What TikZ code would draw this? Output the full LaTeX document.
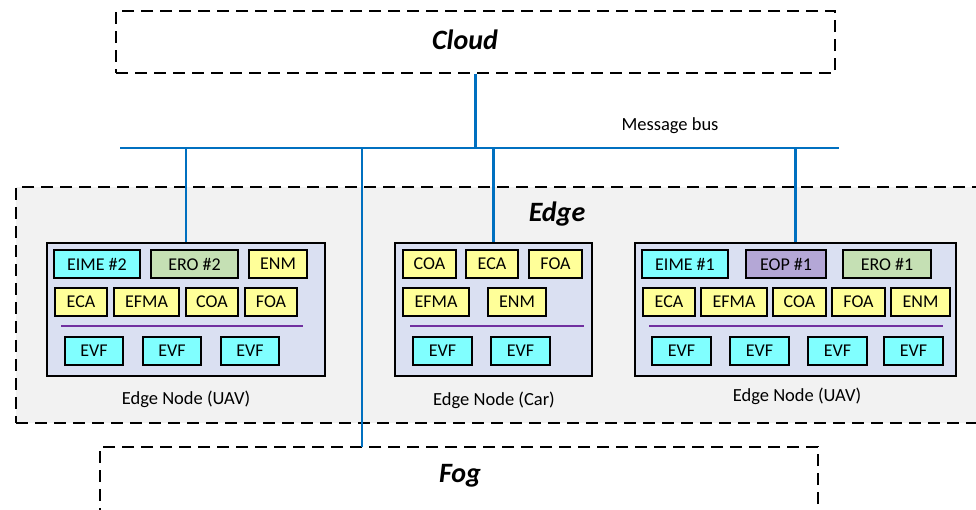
\documentclass[tikz,border=0pt]{standalone}
\usepackage{fontspec}
\setmainfont{Carlito}
\begin{document}
\begin{tikzpicture}[x=1pt, y=-1pt,
    layer/.style={draw, line width=1.8pt, dash pattern=on 12pt off 7pt, inner sep=0pt},
    layertext/.style={font=\fontsize{28}{33}\selectfont\bfseries\itshape},
    nodebox/.style={draw, line width=1.6pt, fill=nodefill, inner sep=0pt, minimum height=133pt},
    blk/.style={draw, line width=1.5pt, inner sep=0pt, minimum height=28pt, font=\fontsize{18}{21}\selectfont},
    cblk/.style={blk, fill=cyanbox},
    yblk/.style={blk, fill=yellowbox},
    gblk/.style={blk, fill=greenbox},
    pblk/.style={blk, fill=purplebox},
    bus/.style={line width=2.6pt, draw=busblue},
    sep/.style={line width=1.4pt, draw=sepline},
    caption/.style={font=\fontsize{18.5}{22}\selectfont}]
    % Define colors
    \definecolor{busblue}{RGB}{0,112,192}
    \definecolor{sepline}{RGB}{112,48,160}
    \definecolor{edgefill}{RGB}{242,242,242}
    \definecolor{nodefill}{RGB}{218,224,242}
    \definecolor{cyanbox}{RGB}{128,255,255}
    \definecolor{yellowbox}{RGB}{255,255,153}
    \definecolor{greenbox}{RGB}{197,224,180}
    \definecolor{purplebox}{RGB}{180,167,214}

    \useasboundingbox (0,0) rectangle (976,509);

    % Draw the layers
    \node[layer, fill=edgefill, minimum width=974pt, minimum height=236pt] (edge) at (503,305) {};
    \node[layer, minimum width=719pt, minimum height=62pt] (cloud) at (475.5,42) {};
    \node[layer, minimum width=718pt, minimum height=80pt] (fog) at (459,487) {};
    \node[layertext] (cloudlbl) at (465,40) {Cloud};
    \node[layertext] (edgelbl) at (557,214) {Edge};
    \node[layertext] (foglbl) at (460,476) {Fog};

    % Draw the message bus
    \coordinate (busL) at (120,148);
    \coordinate (busR) at (839,148);
    \coordinate (fogtap) at (362,447);
    \node[caption] (buslbl) at (670,126) {Message bus};

    % Draw the edge nodes
    \node[nodebox, minimum width=278pt] (uavtwo) at (186,309.5) {};
    \node[nodebox, minimum width=197pt] (car) at (493.5,309.5) {};
    \node[nodebox, minimum width=321pt] (uavone) at (795.5,309.5) {};
    \node[caption] (uavtwolbl) at (186,399) {Edge Node (UAV)};
    \node[caption] (carlbl) at (494,400) {Edge Node (Car)};
    \node[caption] (uavonelbl) at (797,396) {Edge Node (UAV)};

    \draw[bus] (busL) -- (busR);
    \draw[bus] (cloud.south) -- (cloud.south |- busL);
    \draw[bus] (busL -| uavtwo.north) -- (uavtwo.north);
    \draw[bus] (busL -| car.north) -- (car.north);
    \draw[bus] (busL -| uavone.north) -- (uavone.north);
    \draw[bus] (busL -| fogtap) -- (fogtap);

    % Edge node (UAV), left
    \node[cblk, minimum width=86pt] (eimetwo) at (97,264) {EIME \#2};
    \node[gblk, minimum width=87pt] (erotwo) at (194.5,264) {ERO \#2};
    \node[yblk, minimum width=58pt] (enmtwo) at (278,264) {ENM};
    \node[yblk, minimum width=52pt] (ecatwo) at (81,302) {ECA};
    \node[yblk, minimum width=65pt] (efmatwo) at (146.5,302) {EFMA};
    \node[yblk, minimum width=52pt] (coatwo) at (212,302) {COA};
    \node[yblk, minimum width=52pt] (foatwo) at (271,302) {FOA};
    \coordinate (septwoL) at (61,326);
    \coordinate (septwoR) at (303,326);
    \draw[sep] (septwoL) -- (septwoR);
    \foreach \x/\n in {94/a, 172/b, 250/c}
        \node[cblk, minimum width=58pt] (evftwo\n) at (\x,351) {EVF};

    % Edge node (Car)
    \node[yblk, minimum width=53pt] (coacar) at (429.5,264) {COA};
    \node[yblk, minimum width=52pt] (ecacar) at (492,264) {ECA};
    \node[yblk, minimum width=53pt] (foacar) at (555.5,264) {FOA};
    \node[yblk, minimum width=66pt] (efmacar) at (436,302) {EFMA};
    \node[yblk, minimum width=58pt] (enmcar) at (517,302) {ENM};
    \coordinate (sepcarL) at (410,326);
    \coordinate (sepcarR) at (584,326);
    \draw[sep] (sepcarL) -- (sepcarR);
    \foreach \x/\n in {442.5/a, 520.5/b}
        \node[cblk, minimum width=59pt] (evfcar\n) at (\x,351) {EVF};

    % Edge node (UAV), right
    \node[cblk, minimum width=86pt] (eimeone) at (685,264) {EIME \#1};
    \node[pblk, minimum width=80pt] (eopone) at (786,264) {EOP \#1};
    \node[gblk, minimum width=88pt] (eroone) at (887,264) {ERO \#1};
    \node[yblk, minimum width=52pt] (ecaone) at (669,302) {ECA};
    \node[yblk, minimum width=66pt] (efmaone) at (734,302) {EFMA};
    \node[yblk, minimum width=53pt] (coaone) at (799.5,302) {COA};
    \node[yblk, minimum width=53pt] (foaone) at (858.5,302) {FOA};
    \node[yblk, minimum width=59pt] (enmone) at (920.5,302) {ENM};
    \coordinate (seponeL) at (649,326);
    \coordinate (seponeR) at (943,326);
    \draw[sep] (seponeL) -- (seponeR);
    \foreach \x/\n in {681.5/a, 759.5/b, 837.5/c, 913.5/d}
        \node[cblk, minimum width=59pt] (evfone\n) at (\x,351) {EVF};
\end{tikzpicture}
\end{document}
